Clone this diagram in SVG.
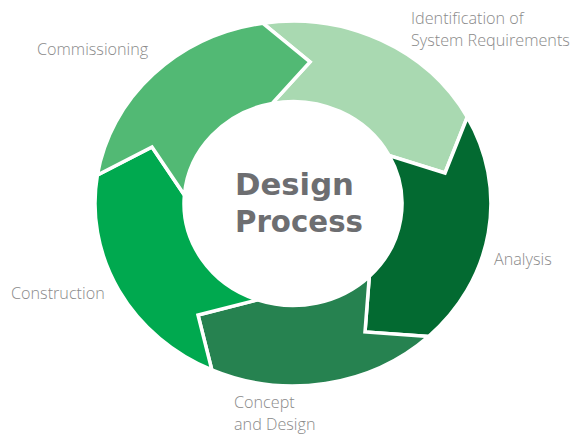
<svg xmlns="http://www.w3.org/2000/svg" width="574" height="435" viewBox="0 0 574 435">
  <style>
    .seg { stroke: #ffffff; stroke-width: 3.5; stroke-linejoin: miter; }
    .label { font-family: "Open Sans", "Liberation Sans", sans-serif; font-weight: 300; font-size: 16.2px; fill: #8a8a8a; }
    .title { font-family: "DejaVu Sans", "Liberation Sans", sans-serif; font-weight: 700; font-size: 30.5px; fill: #6d6e71; }
  </style>
  <rect width="574" height="435" fill="#ffffff"/>

  <!-- Cycle segments: each runs clockwise from a notched tail to a pointed head -->
  <g id="identification">
    <path class="seg" fill="#a9d9b1" d="M262.7,23.2 A198,182.5 0 0 1 467.3,117 L445,173 L389.2,155.6 A109,102 0 0 0 272.2,103.4 L310,62 Z"/>
    <text class="label" x="411" y="24">Identification of</text>
    <text class="label" x="411" y="46">System Requirements</text>
  </g>
  <g id="analysis">
    <path class="seg" fill="#036a31" d="M467.3,117 A198,182.5 0 0 1 428.5,336.5 L365,332 L369.3,276.4 A109,102 0 0 0 389.2,155.6 L445,173 Z"/>
    <text class="label" x="494" y="265">Analysis</text>
  </g>
  <g id="concept-design">
    <path class="seg" fill="#268250" d="M428.5,336.5 A198,182.5 0 0 1 211.8,369.9 L198,315 L257.5,299.9 A109,102 0 0 0 369.3,276.4 L365,332 Z"/>
    <text class="label" x="234" y="408">Concept</text>
    <text class="label" x="234" y="430">and Design</text>
  </g>
  <g id="construction">
    <path class="seg" fill="#00a94f" d="M211.8,369.9 A198,182.5 0 0 1 97.4,175 L152,147 L184.4,195.1 A109,102 0 0 0 257.5,299.9 L198,315 Z"/>
    <text class="label" x="11" y="299">Construction</text>
  </g>
  <g id="commissioning">
    <path class="seg" fill="#52b974" d="M97.4,175 A198,182.5 0 0 1 262.7,23.2 L310,62 L272.2,103.4 A109,102 0 0 0 184.4,195.1 L152,147 Z"/>
    <text class="label" x="37" y="55">Commissioning</text>
  </g>

  <!-- Centre title -->
  <g id="title">
    <text class="title" x="235" y="195" textLength="119" lengthAdjust="spacingAndGlyphs">Design</text>
    <text class="title" x="235" y="232" textLength="128" lengthAdjust="spacingAndGlyphs">Process</text>
  </g>
</svg>
